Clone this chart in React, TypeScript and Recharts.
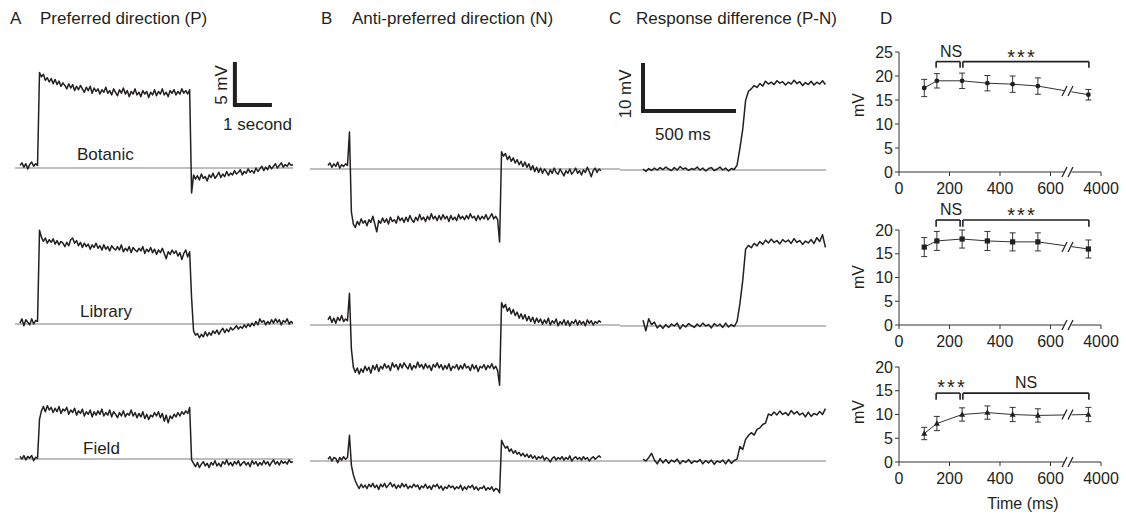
import React from "react";
import { LineChart, Line, XAxis, YAxis, ReferenceLine, ErrorBar } from "recharts";

const FONT = '"Liberation Sans", Arial, Helvetica, sans-serif';
const INK = "#231f20";
const BASELINE_GRAY = "#a8a8a8";

// sampling of the recordings (P / N traces in s, P-N traces in ms)
const PN_DT_S = 0.05;
const DIFF_DT_MS = 15;

// membrane potential relative to rest, mV — preferred direction (P)
const botanicP = [
  0.3, 0.6, 0.1, 0.5, -0.1, 0.4, 0.7, 0.2, 0.5, 0.3,
  11.1, 10.6, 10.9, 10.2, 10.5, 10.0, 10.4, 9.8, 10.3, 9.7,
  10.1, 9.5, 9.9, 9.6, 9.2, 9.8, 9.3, 9.7, 9.0, 9.5,
  9.1, 9.6, 9.2, 8.8, 9.4, 9.0, 9.5, 8.7, 9.3, 8.9,
  9.2, 8.6, 9.1, 8.8, 9.4, 8.7, 9.0, 8.5, 9.2, 8.8,
  8.4, 9.1, 8.7, 9.3, 8.6, 9.0, 8.3, 8.9, 8.6, 9.2,
  8.5, 8.8, 8.3, 9.0, 8.6, 8.9, 8.2, 8.8, 8.5, 9.1,
  8.4, 8.9, 8.6, 9.2, 8.5, 8.8, 8.3, 9.0, 8.7, 9.1,
  8.5, 8.9, 8.6, 9.2, 8.7, 9.0, 8.6, 9.1, -2.9, -0.8,
  -1.3, -0.9, -1.4, -0.7, -1.2, -1.0, -1.5, -0.8, -1.1, -0.6,
  -1.2, -0.9, -0.5, -1.1, -0.7, -1.0, -0.4, -0.9, -0.6, -0.8,
  -0.3, -0.7, -0.5, -0.2, -0.8, -0.4, -0.6, -0.1, -0.5, -0.3,
  -0.6, 0.0, -0.4, -0.1, 0.2, -0.3, 0.1, -0.2, 0.3, -0.1,
  0.2, 0.5, 0.0, 0.3, 0.6, 0.1, 0.4, 0.2, 0.6, 0.3,
  0.4,
];
const libraryP = [
  0.1, 0.6, -0.2, 0.5, 0.2, -0.1, 0.6, 0.0, 0.4, 0.3,
  10.9, 10.1, 9.6, 10.0, 9.4, 9.8, 9.5, 9.9, 9.3, 9.7,
  9.2, 9.6, 9.4, 9.0, 9.5, 9.1, 9.8, 10.0, 9.4, 9.7,
  9.1, 9.5, 8.9, 9.4, 9.0, 9.3, 8.7, 9.2, 8.9, 9.4,
  8.8, 9.1, 8.6, 9.2, 8.7, 9.0, 8.5, 9.1, 8.8, 8.6,
  9.0, 8.6, 9.2, 8.4, 8.8, 8.5, 9.0, 8.3, 8.9, 8.6,
  8.4, 8.8, 8.5, 9.0, 8.2, 8.7, 8.4, 8.9, 8.3, 8.7,
  8.1, 8.6, 8.3, 8.8, 8.2, 7.6, 8.4, 8.1, 8.6, 8.2,
  8.5, 7.9, 8.3, 7.5, 8.2, 8.6, 7.8, 8.4, 3.0, -0.8,
  -1.3, -1.1, -1.6, -1.2, -1.5, -0.9, -1.4, -1.0, -1.3, -0.8,
  -1.1, -0.7, -1.2, -0.8, -0.5, -1.0, -0.6, -0.9, -0.4, -0.7,
  -0.5, -0.2, -0.6, -0.3, -0.5, -0.1, -0.4, 0.0, -0.3, 0.1,
  -0.2, 0.3, -0.1, 0.6, 0.2, 0.4, -0.1, 0.3, 0.0, 0.5,
  0.1, 0.6, 0.2, 0.5, -0.1, 0.4, 0.2, 0.6, 0.0, 0.3,
  0.1,
];
const fieldP = [
  0.3, 0.0, 0.4, -0.1, 0.3, 0.1, 0.4, -0.2, 0.2, 0.1,
  4.6, 5.6, 6.1, 5.5, 6.2, 5.7, 6.0, 5.4, 5.9, 5.5,
  6.1, 5.3, 5.8, 5.6, 6.0, 5.2, 5.7, 5.4, 5.9, 5.1,
  5.6, 5.3, 5.8, 5.0, 5.5, 5.2, 5.7, 4.9, 5.5, 5.1,
  5.6, 5.2, 5.8, 5.0, 5.4, 5.1, 5.7, 4.9, 5.5, 5.2,
  4.8, 5.4, 5.0, 5.6, 4.9, 5.3, 5.1, 5.7, 5.0, 5.4,
  4.8, 5.3, 4.9, 5.5, 4.7, 5.2, 4.6, 5.1, 4.9, 5.4,
  5.0, 5.5, 4.8, 5.3, 4.4, 5.1, 4.2, 5.0, 4.7, 5.2,
  4.9, 5.4, 5.0, 5.5, 5.2, 5.6, 5.3, 6.0, -0.1, -0.5,
  -0.9, -0.4, -1.0, -0.6, -0.3, -0.8, -0.5, -1.0, -0.4, -0.7,
  -0.2, -0.8, -0.5, -0.9, -0.3, -0.6, -0.1, -0.7, -0.4, -0.8,
  -0.3, -0.6, -0.2, -0.8, -0.5, -0.3, -0.7, -0.4, -0.9, -0.2,
  -0.6, -0.3, -0.8, -0.4, -0.7, -0.2, -0.6, -0.3, -0.8, -0.4,
  -0.1, -0.6, -0.3, -0.7, -0.2, -0.5, -0.3, -0.6, -0.1, -0.4,
  -0.3,
];

// anti-preferred direction (N)
const botanicN = [
  0.4, 0.7, 0.2, 0.6, 0.3, 0.8, 0.1, 0.5, 0.3, 0.6,
  0.4, 4.3, -5.0, -6.4, -6.8, -6.1, -6.5, -5.8, -6.3, -6.0,
  -6.6, -5.9, -6.2, -5.5, -6.4, -7.3, -6.0, -6.3, -5.7, -6.2,
  -5.8, -6.4, -5.6, -6.1, -5.9, -6.3, -5.5, -6.0, -5.7, -6.2,
  -5.6, -6.1, -5.4, -5.9, -6.2, -5.6, -6.0, -5.3, -5.9, -5.6,
  -6.1, -5.5, -5.9, -5.2, -5.8, -5.5, -6.0, -5.4, -5.9, -5.3,
  -5.8, -5.5, -6.1, -5.4, -5.9, -5.6, -6.0, -5.3, -5.8, -5.5,
  -5.9, -5.4, -5.8, -5.2, -5.7, -5.5, -6.0, -5.4, -5.9, -5.5,
  -5.8, -5.3, -5.9, -5.6, -5.2, -5.8, -5.5, -5.9, -8.5, 2.0,
  1.5, 1.8, 1.1, 1.5, 0.9, 1.3, 0.7, 1.1, 0.5, 0.9,
  0.3, 0.8, 0.2, 0.6, -0.1, 0.4, -0.3, 0.2, -0.4, 0.1,
  -0.5, 0.0, -0.3, -0.7, -0.1, -0.5, 0.1, -0.4, -0.6, 0.0,
  -0.4, -0.8, -0.2, -0.5, 0.0, -0.6, -0.3, 0.1, -0.5, -0.2,
  -0.7, -0.1, -0.4, 0.2, -0.3, -0.9, -0.2, 0.1, -0.4, 0.0,
  -0.2,
];
const libraryN = [
  0.6, 1.0, 0.3, 0.8, 0.2, 0.9, 0.5, 1.1, 0.4, 0.7,
  0.5, 3.7, -2.8, -4.9, -5.5, -5.0, -5.7, -5.1, -5.5, -4.8,
  -5.3, -4.9, -5.6, -4.7, -5.2, -4.6, -5.4, -4.8, -5.1, -4.5,
  -5.0, -4.7, -5.3, -4.4, -4.9, -4.6, -5.2, -4.5, -5.0, -4.4,
  -4.8, -5.1, -4.5, -5.2, -4.7, -5.0, -4.3, -4.9, -4.6, -5.1,
  -4.5, -5.0, -4.7, -5.3, -4.6, -4.9, -4.4, -5.0, -4.6, -5.2,
  -4.7, -5.1, -4.5, -5.3, -4.8, -5.0, -4.6, -5.2, -4.7, -5.1,
  -4.5, -5.0, -4.8, -5.3, -4.6, -5.1, -4.7, -5.4, -4.8, -5.0,
  -4.6, -5.2, -4.7, -5.0, -4.5, -5.1, -4.8, -5.3, -7.0, 2.6,
  2.0, 2.4, 1.6, 2.0, 1.3, 1.8, 1.1, 1.5, 0.8, 1.3,
  0.7, 1.2, 0.5, 1.0, 0.4, 0.9, 0.2, 0.8, 0.3, 0.7,
  0.1, 0.6, 0.2, 0.8, 0.0, 0.5, 0.2, 0.7, -0.1, 0.4,
  0.1, 0.6, 0.0, 0.5, -0.1, 0.4, 0.2, 0.6, 0.0, 0.5,
  0.1, 0.4, -0.1, 0.6, 0.2, 0.5, 0.0, 0.4, 0.2, 0.5,
  0.3,
];
const fieldN = [
  0.2, 0.5, 0.0, 0.4, 0.3, -0.2, 0.4, 0.1, 0.5, 0.2,
  0.4, 3.0, -0.5, -1.6, -2.3, -2.8, -3.2, -2.7, -3.1, -2.8,
  -3.2, -2.7, -3.0, -2.6, -3.1, -2.8, -3.3, -2.7, -3.0, -2.6,
  -3.1, -2.8, -2.5, -3.0, -2.7, -3.2, -2.8, -3.1, -2.6, -3.0,
  -2.7, -3.2, -2.9, -3.1, -2.7, -3.0, -2.8, -3.3, -2.9, -3.1,
  -2.7, -3.2, -2.9, -3.3, -2.8, -3.0, -2.7, -3.2, -2.9, -3.4,
  -3.0, -3.2, -2.8, -3.1, -2.9, -3.3, -3.0, -3.2, -2.8, -3.4,
  -3.0, -3.3, -2.9, -3.1, -2.8, -3.3, -3.0, -3.4, -3.1, -3.2,
  -2.9, -3.4, -3.1, -3.3, -3.0, -3.5, -3.2, -3.3, -3.7, 2.4,
  1.9, 1.5, 1.7, 1.1, 1.4, 0.9, 1.2, 0.8, 1.0, 0.6,
  0.9, 0.5, 0.8, 0.4, 0.7, 0.3, 0.6, 0.2, 0.5, 0.3,
  0.6, 0.1, 0.4, 0.2, -0.1, 0.3, 0.5, 0.1, 0.4, 0.2,
  0.5, 0.1, 0.4, 0.2, 0.6, 0.0, 0.3, 0.5, 0.2, 0.4,
  0.1, 0.5, 0.2, 0.4, 0.0, 0.3, 0.5, 0.2, 0.4, 0.6,
  0.4,
];

// response difference (P-N), mV
const botanicDiff = [
  0.2, -0.3, 0.3, -0.1, 0.4, 0.0, 0.5, 0.1, 0.6, 0.2,
  -0.1, 0.5, 0.0, 0.7, 0.2, 0.4, -0.1, 0.3, 0.1, 0.6,
  0.0, 0.4, -0.2, 0.3, 0.5, -0.1, 0.2, 0.6, 0.0, 0.4,
  -0.2, 0.3, 0.1, 1.0, 4.5, 8.5, 14.5, 16.4, 16.9, 17.6,
  17.2, 18.0, 17.5, 18.5, 17.9, 18.3, 17.8, 18.6, 18.1, 18.4,
  17.7, 18.3, 17.9, 18.7, 18.0, 18.4, 17.6, 18.2, 17.8, 18.5,
  17.7, 18.3, 17.9, 18.6, 17.8,
];
const libraryDiff = [
  1.2, -1.0, 1.5, 0.3, 0.8, -0.4, 0.2, -0.5, 0.3, -0.3,
  0.4, 0.0, 0.6, -0.6, 0.3, -0.2, 0.5, 0.1, -0.3, 0.4,
  -0.1, 0.6, 0.0, 0.3, -0.4, 0.5, 0.0, 0.4, -0.3, 0.6,
  -0.2, 0.3, -0.1, 0.9, 4.6, 9.5, 16.0, 16.8, 16.3, 17.2,
  16.7, 17.6, 17.0, 17.9, 17.3, 18.1, 17.4, 17.8, 17.1, 18.0,
  17.5, 17.9, 17.2, 18.2, 17.4, 17.8, 17.0, 17.7, 17.3, 18.0,
  17.2, 18.4, 17.6, 19.0, 16.4,
];
const fieldDiff = [
  0.4, 0.0, 0.7, 1.6, 0.2, -0.6, 0.5, -0.4, 0.3, -0.5,
  0.2, -0.2, 0.4, -0.6, 0.1, -0.3, 0.3, -0.5, 0.0, -0.2,
  0.3, -0.6, 0.1, -0.4, 0.2, -0.7, 0.0, -0.3, 0.2, -0.6,
  0.3, -0.5, 0.1, 0.4, 3.0, 2.4, 4.5, 5.3, 5.9, 5.4,
  6.6, 6.9, 7.6, 7.9, 9.8, 9.5, 10.2, 9.6, 10.4, 9.7,
  10.1, 9.5, 10.5, 9.8, 10.3, 9.6, 10.0, 9.2, 10.2, 9.3,
  9.9, 9.6, 10.3, 9.7, 10.9,
];

// summary (D): response difference vs. stimulus time
const timeSlots = [100, 150, 250, 350, 450, 550, 750];
const timeTicks = [0, 200, 400, 600, 800];
const timeTickLabels = ["0", "200", "400", "600", "4000"];
const botanicMean = [17.5, 19.0, 19.0, 18.5, 18.3, 17.9, 16.1];
const botanicErr = [1.8, 1.5, 1.6, 1.6, 1.7, 1.7, 1.1];
const libraryMean = [16.4, 17.7, 18.1, 17.7, 17.5, 17.5, 16.0];
const libraryErr = [2.0, 2.0, 1.9, 2.0, 1.9, 1.9, 1.9];
const fieldMean = [6.0, 8.1, 10.0, 10.4, 10.0, 9.8, 10.0];
const fieldErr = [1.3, 1.5, 1.4, 1.4, 1.5, 1.4, 1.5];

const toTrace = (values: number[], dt: number) => values.map((v, i) => ({ t: i * dt, v }));
const toSummary = (means: number[], errs: number[]) =>
  timeSlots.map((t, i) => ({ t, v: means[i], err: errs[i] }));

const PLOT_TOP = 40;
const PLOT_H = 460;

type Frame = {
  left: number;
  width: number;
  t0Px: number; // pixel where t = 0
  pxPerT: number;
  pxPerMv: number;
  baselines: number[]; // pixel row of each recording's rest level
};

const frameP: Frame = { left: 15, width: 278, t0Px: 20, pxPerT: 39, pxPerMv: 8.6, baselines: [168, 324, 459] };
const frameN: Frame = { left: 310, width: 310, t0Px: 328, pxPerT: 39, pxPerMv: 8.6, baselines: [169, 325, 461] };
const frameDiff: Frame = { left: 620, width: 206, t0Px: 643, pxPerT: 0.19, pxPerMv: 4.8, baselines: [170, 326, 461] };

function TraceColumn({ frame, traces, children }: { frame: Frame; traces: { t: number; v: number }[][]; children?: React.ReactNode }) {
  const xDomain = [(frame.left - frame.t0Px) / frame.pxPerT, (frame.left + frame.width - frame.t0Px) / frame.pxPerT];
  return (
    <div style={{ position: "absolute", left: frame.left, top: PLOT_TOP }}>
      <LineChart width={frame.width} height={PLOT_H} margin={{ top: 0, right: 0, bottom: 0, left: 0 }}>
        <XAxis hide type="number" dataKey="t" domain={xDomain} allowDataOverflow />
        {frame.baselines.map((b, i) => (
          <YAxis
            key={`y${i}`}
            yAxisId={i}
            hide
            type="number"
            domain={[(b - PLOT_TOP - PLOT_H) / frame.pxPerMv, (b - PLOT_TOP) / frame.pxPerMv]}
            allowDataOverflow
          />
        ))}
        {frame.baselines.map((_, i) => (
          <ReferenceLine key={`g${i}`} yAxisId={i} y={0} stroke={BASELINE_GRAY} strokeWidth={1.5} />
        ))}
        {traces.map((data, i) => (
          <Line
            key={`l${i}`}
            yAxisId={i}
            data={data}
            dataKey="v"
            type="linear"
            stroke={INK}
            strokeWidth={1.5}
            strokeLinejoin="round"
            dot={false}
            isAnimationActive={false}
          />
        ))}
        {children}
      </LineChart>
    </div>
  );
}

const circleDot = (p: any) => <circle key={`c${p.index}`} cx={p.cx} cy={p.cy} r={2.4} fill={INK} />;
const squareDot = (p: any) => (
  <rect key={`s${p.index}`} x={p.cx - 2.6} y={p.cy - 2.6} width={5.2} height={5.2} fill={INK} />
);
const triangleDot = (p: any) => (
  <path key={`t${p.index}`} d={`M${p.cx},${p.cy - 3.3}L${p.cx + 3},${p.cy + 2.2}L${p.cx - 3},${p.cy + 2.2}Z`} fill={INK} />
);

// significance bracket drawn in data units: [x1, x2, top, leg bottom]
function bracket(key: string, x1: number, x2: number, top: number, foot: number) {
  const common = { stroke: INK, strokeWidth: 1.6, ifOverflow: "visible" as const };
  return [
    <ReferenceLine key={`${key}a`} segment={[{ x: x1, y: foot }, { x: x1, y: top }]} {...common} />,
    <ReferenceLine key={`${key}b`} segment={[{ x: x1, y: top }, { x: x2, y: top }]} {...common} />,
    <ReferenceLine key={`${key}c`} segment={[{ x: x2, y: top }, { x: x2, y: foot }]} {...common} />,
  ];
}

function SummaryPanel({
  top,
  height,
  marginTop,
  yMax,
  data,
  dot,
  brackets,
}: {
  top: number;
  height: number;
  marginTop: number;
  yMax: number;
  data: { t: number; v: number; err: number }[];
  dot: (p: any) => React.ReactElement;
  brackets: React.ReactNode;
}) {
  const yTicks = [];
  for (let v = 0; v <= yMax; v += 5) yTicks.push(v);
  return (
    <div style={{ position: "absolute", left: 851, top }}>
      <LineChart width={270} height={height} data={data} margin={{ top: marginTop, right: 20, bottom: height - marginTop - (yMax * 4.75 + (yMax === 25 ? 1.25 : 0)) - 30, left: 0 }}>
        <XAxis
          type="number"
          dataKey="t"
          domain={[0, 800]}
          ticks={timeTicks}
          tickFormatter={(v: number) => timeTickLabels[timeTicks.indexOf(v)]}
          tickSize={4}
          tickMargin={7}
          height={30}
          stroke="#333"
          tick={{ fill: INK, fontSize: 16, fontFamily: FONT }}
          allowDataOverflow
        />
        <YAxis
          type="number"
          domain={[0, yMax]}
          ticks={yTicks}
          width={48}
          tickSize={4}
          tickMargin={2}
          stroke="#333"
          tick={{ fill: INK, fontSize: 16, fontFamily: FONT }}
          allowDataOverflow
        />
        <Line
          dataKey="v"
          type="linear"
          stroke="#333"
          strokeWidth={1}
          dot={dot}
          isAnimationActive={false}
        >
          <ErrorBar dataKey="err" width={3} stroke="#333" strokeWidth={1} direction="y" />
        </Line>
        {brackets}
      </LineChart>
    </div>
  );
}

function Breaks({ lineY, axisY }: { lineY: number; axisY: number }) {
  const slash = (x: number, y: number) => <line x1={x} y1={y + 5} x2={x + 5} y2={y - 5} stroke={INK} strokeWidth={1.2} />;
  return (
    <g>
      <rect x={1064.5} y={lineY - 7} width={7} height={14} fill="#fff" />
      <rect x={1064.5} y={axisY - 4} width={7} height={8} fill="#fff" />
      {slash(1062, lineY)}
      {slash(1068, lineY)}
      {slash(1062, axisY)}
      {slash(1068, axisY)}
    </g>
  );
}

export default function App() {
  const t = { fontFamily: FONT, fill: INK };
  return (
    <div style={{ position: "absolute", left: 0, top: 0, width: 1126, height: 517, background: "#fff", overflow: "hidden" }}>
      <TraceColumn
        frame={frameP}
        traces={[toTrace(botanicP, PN_DT_S), toTrace(libraryP, PN_DT_S), toTrace(fieldP, PN_DT_S)]}
      >
        {/* 5 mV / 1 s scale bar */}
        <ReferenceLine yAxisId={0} segment={[{ x: 5.51, y: 7.33 }, { x: 5.51, y: 12.33 }]} stroke={INK} strokeWidth={4} />
        <ReferenceLine yAxisId={0} segment={[{ x: 5.46, y: 7.33 }, { x: 6.46, y: 7.33 }]} stroke={INK} strokeWidth={4} />
      </TraceColumn>
      <TraceColumn
        frame={frameN}
        traces={[toTrace(botanicN, PN_DT_S), toTrace(libraryN, PN_DT_S), toTrace(fieldN, PN_DT_S)]}
      />
      <TraceColumn
        frame={frameDiff}
        traces={[toTrace(botanicDiff, DIFF_DT_MS), toTrace(libraryDiff, DIFF_DT_MS), toTrace(fieldDiff, DIFF_DT_MS)]}
      >
        {/* 10 mV / 500 ms scale bar */}
        <ReferenceLine yAxisId={0} segment={[{ x: 0, y: 12.29 }, { x: 0, y: 22.29 }]} stroke={INK} strokeWidth={4} />
        <ReferenceLine yAxisId={0} segment={[{ x: -10.5, y: 12.29 }, { x: 489.5, y: 12.29 }]} stroke={INK} strokeWidth={4} />
      </TraceColumn>

      <SummaryPanel
        top={32}
        height={170}
        marginTop={20}
        yMax={25}
        data={toSummary(botanicMean, botanicErr)}
        dot={circleDot}
        brackets={[...bracket("ns", 147, 242, 23, 21.7), ...bracket("sig", 253, 752, 23, 21.7)]}
      />
      <SummaryPanel
        top={205}
        height={150}
        marginTop={25}
        yMax={20}
        data={toSummary(libraryMean, libraryErr)}
        dot={squareDot}
        brackets={[...bracket("ns", 147, 242, 22.1, 20.7), ...bracket("sig", 253, 752, 22.1, 20.7)]}
      />
      <SummaryPanel
        top={342}
        height={150}
        marginTop={25}
        yMax={20}
        data={toSummary(fieldMean, fieldErr)}
        dot={triangleDot}
        brackets={[...bracket("sig", 147, 242, 14.5, 13.1), ...bracket("ns", 253, 752, 14.5, 13.1)]}
      />

      <svg width={1126} height={517} style={{ position: "absolute", left: 0, top: 0, pointerEvents: "none" }}>
        <g {...t} fontSize={17}>
          <text x={10} y={24}>A</text>
          <text x={40} y={24}>Preferred direction (P)</text>
          <text x={321} y={24}>B</text>
          <text x={352} y={24}>Anti-preferred direction (N)</text>
          <text x={609} y={24}>C</text>
          <text x={636} y={24}>Response difference (P-N)</text>
          <text x={880} y={24}>D</text>
          <text x={77} y={160}>Botanic</text>
          <text x={80} y={317}>Library</text>
          <text x={83} y={454}>Field</text>
          <text x={223} y={130}>1 second</text>
          <text transform="translate(227,85) rotate(-90)" textAnchor="middle">5 mV</text>
          <text transform="translate(631,94) rotate(-90)" textAnchor="middle">10 mV</text>
          <text x={655} y={140}>500 ms</text>
        </g>
        <g {...t} fontSize={16}>
          <text transform="translate(864,105) rotate(-90)" textAnchor="middle">mV</text>
          <text transform="translate(864,277) rotate(-90)" textAnchor="middle">mV</text>
          <text transform="translate(864,412) rotate(-90)" textAnchor="middle">mV</text>
          <text x={1023} y={509} textAnchor="middle">Time (ms)</text>
          <text x={951} y={57} textAnchor="middle">NS</text>
          <text x={951} y={215} textAnchor="middle">NS</text>
          <text x={1026} y={388} textAnchor="middle">NS</text>
        </g>
        <g {...t} fontSize={20} letterSpacing={2}>
          <text x={1022} y={63.5} textAnchor="middle">***</text>
          <text x={1022} y={221.5} textAnchor="middle">***</text>
          <text x={952} y={393.5} textAnchor="middle">***</text>
        </g>
        <Breaks lineY={91} axisY={172} />
        <Breaks lineY={247} axisY={325} />
        <Breaks lineY={414.5} axisY={462} />
      </svg>
    </div>
  );
}
